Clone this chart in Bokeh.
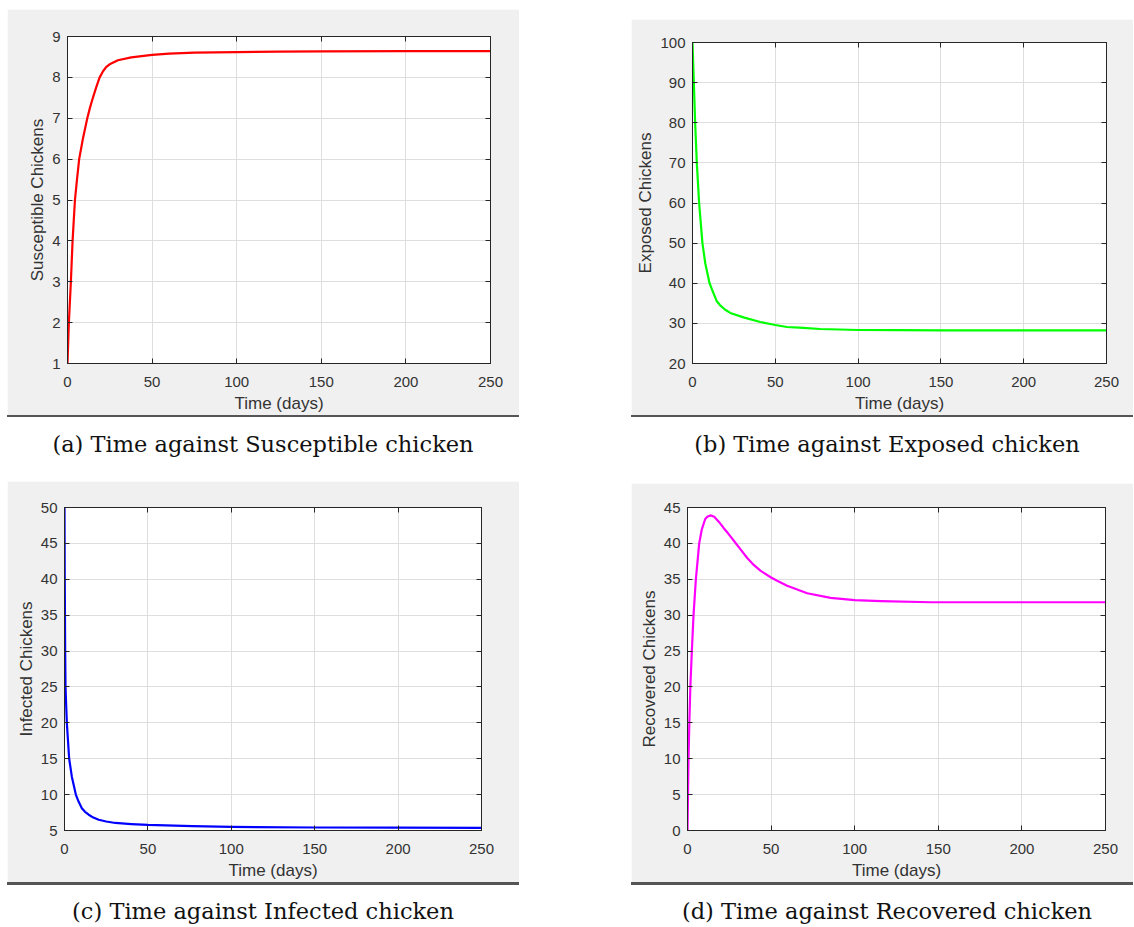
from bokeh.plotting import figure
from bokeh.models import Range1d, LinearAxis, FixedTicker, Div, Spacer
from bokeh.layouts import row, column
from bokeh.embed import file_html
from bokeh.resources import INLINE

# ---------------- data ----------------
x_ticks = [0, 50, 100, 150, 200, 250]
x_label = "Time (days)"

s_time = [0, 0.4, 0.8, 1.4, 2.0, 2.5, 3.0, 3.7, 4.4, 5.6, 6.9, 9.1, 11.7, 13.3, 15, 17,
          19, 21, 22.8, 24.9, 29.8, 37.7, 50, 60, 75, 100, 125, 150, 200, 250]
s_val = [1.0, 1.5, 2.0, 2.5, 3.0, 3.5, 4.0, 4.5, 5.0, 5.5, 6.0, 6.5, 7.0, 7.26, 7.5, 7.76,
         8.0, 8.15, 8.25, 8.32, 8.42, 8.49, 8.55, 8.58, 8.605, 8.62, 8.63, 8.635, 8.64,
         8.64]
s_ticks = [1, 2, 3, 4, 5, 6, 7, 8, 9]

e_time = [0, 0.4, 0.8, 1.6, 2.6, 4.0, 5.0, 6.0, 7.7, 10.3, 12.7, 14.7, 16.7, 19.8, 22.8,
          30.8, 40.9, 50, 57, 67, 77, 100, 125, 150, 200, 250]
e_val = [100, 95, 90, 80, 70, 60, 55, 50, 45, 40, 37.5, 35.5, 34.5, 33.4, 32.6, 31.5,
         30.35, 29.6, 29.1, 28.9, 28.6, 28.35, 28.3, 28.27, 28.25, 28.25]
e_ticks = [20, 30, 40, 50, 60, 70, 80, 90, 100]

i_time = [0, 0.15, 0.4, 0.6, 1.4, 2.8, 4.4, 6.8, 8.5, 10.4, 12.3, 14.5, 17.3, 20.5, 25,
          30.5, 40, 50, 76.7, 100, 150, 200, 250]
i_val = [50, 40, 30, 25, 20, 15, 12.5, 10, 9.0, 8.1, 7.6, 7.2, 6.8, 6.5, 6.25, 6.05,
         5.9, 5.78, 5.6, 5.5, 5.42, 5.39, 5.37]
i_ticks = [5, 10, 15, 20, 25, 30, 35, 40, 45, 50]

r_time = [0, 0.3, 0.6, 1.1, 1.7, 2.6, 3.6, 5.0, 7.0, 8.6, 10.6, 12, 14, 16, 17.6, 19.5,
          21.6, 24.6, 27.6, 31.6, 35.6, 39.6, 43.6, 50, 53.6, 59.6, 71.6, 85.6, 100,
          115.6, 145.6, 200, 250]
r_val = [0, 5, 10, 15, 20, 25, 30, 35, 40, 42, 43.4, 43.75, 43.9, 43.7, 43.3, 42.8,
         42.15, 41.3, 40.4, 39.2, 38.0, 37.0, 36.2, 35.25, 34.8, 34.1, 33.05, 32.4, 32.1,
         31.95, 31.8, 31.8, 31.8]
r_ticks = [0, 5, 10, 15, 20, 25, 30, 35, 40, 45]

captions = ["(a) Time against Susceptible chicken",
            "(b) Time against Exposed chicken",
            "(c) Time against Infected chicken",
            "(d) Time against Recovered chicken"]

# ---------------- styling ----------------
AX = "#262626"
TXT = "#333333"
GRID = "#dedede"
BG = "#f0f0f0"


def style_axis(ax, ticks, show_labels=True):
    ax.ticker = FixedTicker(ticks=ticks)
    ax.axis_line_color = AX
    ax.major_tick_line_color = AX
    ax.major_tick_in = 5
    ax.major_tick_out = 0
    ax.minor_tick_line_color = None
    ax.major_label_text_font = "Liberation Sans"
    ax.major_label_text_font_size = "15px"
    ax.axis_label_text_font = "Liberation Sans"
    ax.axis_label_text_font_style = "normal"
    ax.axis_label_text_color = TXT
    ax.axis_label_text_font_size = "17px"
    if show_labels:
        ax.major_label_text_color = TXT
    else:
        ax.major_label_text_color = None
        ax.major_label_standoff = 0


def panel(t, v, color, ylabel, yr, yticks, w, h, ml, mr, mt, mb):
    p = figure(width=w, height=h, x_range=Range1d(0, 250), y_range=Range1d(*yr),
               output_backend="svg", toolbar_location=None,
               min_border_left=ml, min_border_right=mr, min_border_top=mt,
               min_border_bottom=mb, background_fill_color="white",
               border_fill_color=BG, outline_line_color=AX, outline_line_width=1)
    style_axis(p.xaxis[0], x_ticks)
    style_axis(p.yaxis[0], yticks)
    p.xaxis.axis_label = x_label
    p.yaxis.axis_label = ylabel
    p.xaxis.major_label_standoff = 13
    p.yaxis.major_label_standoff = 7
    p.xaxis.axis_label_standoff = 4
    p.yaxis.axis_label_standoff = 2
    top = LinearAxis()
    style_axis(top, x_ticks, show_labels=False)
    p.add_layout(top, "above")
    right = LinearAxis()
    style_axis(right, yticks, show_labels=False)
    p.add_layout(right, "right")
    p.xgrid.ticker = FixedTicker(ticks=x_ticks)
    p.ygrid.ticker = FixedTicker(ticks=yticks)
    p.xgrid.grid_line_color = GRID
    p.ygrid.grid_line_color = GRID
    p.line(t, v, line_color=color, line_width=2.2, line_join="round")
    return p


def caption(text, w, h, thick, pad_top, shift):
    html = (f'<div style="width:{w}px;height:{h}px;box-sizing:border-box;'
            f'border-top:{thick}px solid #555555;margin:0;padding:0">'
            f'<div style="text-align:center;font-family:\'DejaVu Serif\';'
            f'font-size:22.5px;color:#111111;line-height:27px;padding-top:{pad_top}px;'
            f'position:relative;left:{shift}px;white-space:nowrap">{text}</div></div>')
    return Div(text=html, width=w, height=h, margin=0)


WL, WR = 512, 502

fa = panel(s_time, s_val, "#ff0000", "Susceptible Chickens", (1, 9), s_ticks,
           WL, 406, 60, 29, 27, 50)
fb = panel(e_time, e_val, "#00ff00", "Exposed Chickens", (20, 100), e_ticks,
           WR, 396, 61, 27, 23, 49)
fc = panel(i_time, i_val, "#0000ff", "Infected Chickens", (5, 50), i_ticks,
           WL, 401, 57, 38, 26, 51)
fd = panel(r_time, r_val, "#ff00ff", "Recovered Chickens", (0, 45), r_ticks,
           WR, 399, 56, 28, 24, 50)

cell_a = column(fa, caption(captions[0], WL, 66, 2, 14, 0), spacing=0)
cell_b = column(Spacer(width=WR, height=10, margin=0), fb,
                caption(captions[1], WR, 66, 2, 14, 5), spacing=0)
cell_c = column(fc, caption(captions[2], WL, 43, 3, 13, 0), spacing=0)
cell_d = column(Spacer(width=WR, height=2, margin=0), fd,
                caption(captions[3], WR, 43, 3, 13, 5), spacing=0)

gap = 631 - 519
row1 = row(Spacer(width=7, height=10, margin=0), cell_a,
           Spacer(width=gap, height=10, margin=0), cell_b, spacing=0)
row2 = row(Spacer(width=7, height=10, margin=0), cell_c,
           Spacer(width=gap, height=10, margin=0), cell_d, spacing=0)
layout = column(Spacer(width=10, height=9, margin=0), row1, row2, spacing=0)

open("out.html", "w").write(file_html(layout, INLINE))
